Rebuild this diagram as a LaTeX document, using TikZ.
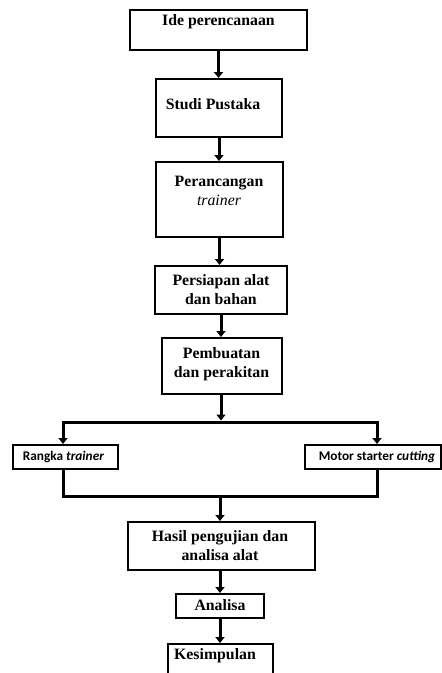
\documentclass[tikz,border=0pt]{standalone}
\usepackage{fontspec}
\setmainfont{Liberation Serif}
\newfontfamily\calfont{Carlito}
\usetikzlibrary{arrows.meta}
\begin{document}
\begin{tikzpicture}[x=1pt,y=-1pt,
  box/.style={draw=black,line width=2pt,rectangle,inner sep=0pt},
  txt/.style={font=\fontsize{15.8}{19}\selectfont\bfseries,align=center,inner sep=0pt},
  stxt/.style={font=\fontsize{13.3}{16}\selectfont\calfont\bfseries,inner sep=0pt},
  conn/.style={line width=3pt},
  arr/.style={line width=3pt,-{Triangle[width=9pt,length=6pt]}}]
\useasboundingbox (0,0) rectangle (442,673);
% boxes
\node[box,minimum width=177pt,minimum height=40pt] (b1) at (218.5,30) {};
\node[box,minimum width=126pt,minimum height=58pt] (b2) at (219,108) {};
\node[box,minimum width=127pt,minimum height=75pt] (b3) at (219.5,199.5) {};
\node[box,minimum width=132pt,minimum height=48pt] (b4) at (221,290) {};
\node[box,minimum width=120pt,minimum height=56pt] (b5) at (222,366) {};
\node[box,minimum width=105pt,minimum height=24pt] (rk) at (65.5,457) {};
\node[box,minimum width=136pt,minimum height=24pt] (ms) at (373,457) {};
\node[box,minimum width=187pt,minimum height=48pt] (b6) at (221.5,546) {};
\node[box,minimum width=88pt,minimum height=24pt] (b7) at (220,606) {};
\node[box,minimum width=105pt,minimum height=48pt] (b8) at (220.5,668) {};
% texts
\node[txt] (t1) at (218.5,22) {Ide perencanaan};
\node[txt] (t2) at (213,104) {Studi Pustaka};
\node[txt] (t3) at (219,191) {Perancangan\\{\mdseries\itshape trainer}};
\node[txt] (t4) at (221,290) {Persiapan alat\\dan bahan};
\node[txt] (t5) at (221.5,364) {Pembuatan\\dan perakitan};
\node[stxt] (t6) at (63.5,457) {Rangka \textit{trainer}};
\node[stxt] (t7) at (377,457) {Motor starter \textit{cutting}};
\node[txt] (t8) at (220,546) {Hasil pengujian dan\\analisa alat};
\node[txt] (t9) at (220,605) {Analisa};
\node[txt] (t10) at (215,656) {Kesimpulan};
% junction coordinates
\coordinate (L) at (63,422);
\coordinate (R) at (377,422);
\coordinate (T) at (221,420.5);
\coordinate (LB) at (63,496);
\coordinate (RB) at (377,496);
\coordinate (M) at (220,496);
% connectors
\draw[arr] (b1.south) -- (b1.south |- b2.north);
\draw[arr] (b2.south) -- (b2.south |- b3.north);
\draw[arr] (b3.south) -- (b3.south |- b4.north);
\draw[arr] (b4.south) -- (b4.south |- b5.north);
\draw[arr] (b5.south -| T) -- (T);
\draw[conn,line cap=rect] (L) -- (R);
\draw[arr] (L) -- (L |- rk.north);
\draw[arr] (R) -- (R |- ms.north);
\draw[conn,line cap=rect] (rk.south -| LB) -- (LB) -- (RB) -- (ms.south -| RB);
\draw[arr] (M) -- (M |- b6.north);
\draw[arr] (b6.south -| b7.north) -- (b7.north);
\draw[arr] (b7.south) -- (b7.south |- b8.north);
\end{tikzpicture}
\end{document}
